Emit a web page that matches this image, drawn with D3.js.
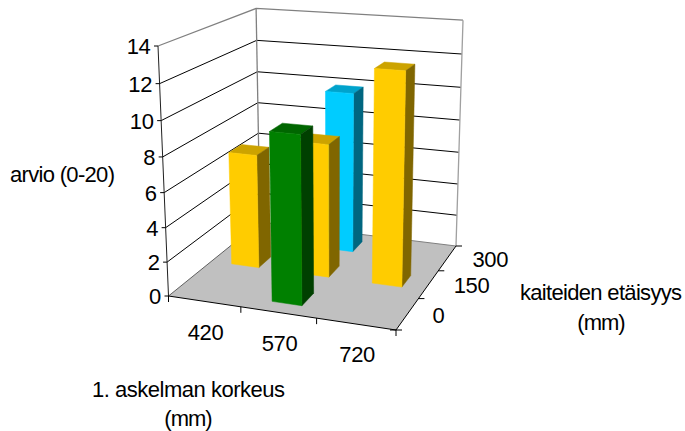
<!DOCTYPE html>
<html>
<head>
<meta charset="utf-8">
<script src="https://cdnjs.cloudflare.com/ajax/libs/d3/7.8.5/d3.min.js"></script>
<style>
  html, body { margin: 0; padding: 0; background: #fff; }
  text { font-family: "Liberation Sans", Arial, sans-serif; fill: #000; }
</style>
</head>
<body>
<svg id="chart" width="685" height="431"></svg>
<script>
// step height and handrail spacing levels
var heights = ["420", "570", "720"];
var spacings = ["0", "150", "300"];
var rows = ["420", "570", "570", "570", "720"];
var cols = ["150", "0", "150", "300", "150"];
var scores = [6.85, 9.6, 7.9, 9.85, 12.4];
var valueTicks = [0, 2, 4, 6, 8, 10, 12, 14];

var colours = {
	"0": { front: "#008000", top: "#006600", side: "#004000" },
	"150": { front: "#ffcc00", top: "#cca300", side: "#806600" },
	"300": { front: "#00ccff", top: "#00a3cc", side: "#006680" }
};

var svg = d3.select("#chart");

// screen position of the box corners, used to set up the perspective
var A = [168.5, 296], B = [396, 330], C = [260, 222], F = [456, 246], D = [158, 46];
var persZ = -0.06;

function solvePersp() {
	// g and h come from the floor quad
	var rx = B[0] + C[0] - A[0] - F[0], ry = B[1] + C[1] - A[1] - F[1];
	var a1 = B[0] - F[0], b1 = C[0] - F[0];
	var a2 = B[1] - F[1], b2 = C[1] - F[1];
	var det = a1 * b2 - a2 * b1;
	return { g: (-rx * b2 + ry * b1) / det, h: (-a1 * ry + a2 * rx) / det };
}
var pers = solvePersp();

function project(u, v, w) {
	var d = 1 + pers.g * u + pers.h * v + persZ * w;
	var out = [];
	for (var k = 0; k < 2; k++) {
		var ax = B[k] * (1 + pers.g) - A[k];
		var ay = C[k] * (1 + pers.h) - A[k];
		var az = D[k] * (1 + persZ) - A[k];
		out.push((A[k] + ax * u + ay * v + az * w) / d);
	}
	return out;
}

var xBand = d3.scaleBand().domain(heights).range([0, 1]);
var yBand = d3.scaleBand().domain(spacings).range([0, 1]);
var zScale = d3.scaleLinear().domain([0, 14]).range([0, 1]);

function poly(pts) { return d3.line()(pts) + "Z"; }

// walls and floor
var walls = svg.append("g");
walls.append("path").attr("d", poly([project(0, 0, 0), project(1, 0, 0), project(1, 1, 0), project(0, 1, 0)]))
	.attr("fill", "#c0c0c0");

// gridlines along left wall and back wall
var grid = svg.append("g");
valueTicks.forEach(function(t) {
	if (t === 0) return;
	var w = zScale(t);
	grid.append("path")
		.attr("d", d3.line()([project(0, 0, w), project(0, 1, w), project(1, 1, w)]))
		.attr("fill", "none")
		.attr("stroke", t === 14 ? "#808080" : "#000")
		.attr("stroke-width", t === 14 ? 1.3 : 1);
});

// box edges
grid.append("path").attr("d", d3.line()([project(0, 1, 1), project(0, 1, 0)])).attr("stroke", "#808080").attr("stroke-width", 1.3);
grid.append("path").attr("d", d3.line()([project(1, 1, 1), project(1, 1, 0)])).attr("stroke", "#a0a0a0").attr("stroke-width", 1.3);
grid.append("path").attr("d", d3.line()([project(0, 0, 0), project(0, 1, 0)])).attr("stroke", "#606060");
grid.append("path").attr("d", d3.line()([project(0, 1, 0), project(1, 1, 0)])).attr("stroke", "#808080");
grid.append("path").attr("d", d3.line()([project(0, 0, 1), project(0, 0, 0)])).attr("stroke", "#202020");
grid.append("path").attr("d", d3.line()([project(0, 0, 0), project(1, 0, 0), project(1, 1, 0)]))
	.attr("fill", "none").attr("stroke", "#000");

// tick marks and labels
var ticks = svg.append("g").attr("stroke", "#000").attr("fill", "none");
var labels = svg.append("g").attr("font-size", 22).attr("letter-spacing", -0.3);

valueTicks.forEach(function(t) {
	var p = project(0, 0, zScale(t));
	ticks.append("line").attr("x1", p[0] - 4).attr("x2", p[0]).attr("y1", p[1]).attr("y2", p[1]);
	labels.append("text").attr("x", p[0] - 7.5).attr("y", p[1] + 8)
		.attr("text-anchor", "end").text(t);
});

d3.range(heights.length + 1).forEach(function(i) {
	var p = project(i / heights.length, 0, 0);
	ticks.append("line").attr("x1", p[0]).attr("y1", p[1]).attr("x2", p[0]).attr("y2", p[1] + 6);
});
heights.forEach(function(h) {
	var c = project(xBand(h) + xBand.bandwidth() / 2, 0, 0);
	labels.append("text").attr("x", c[0] + 1.3).attr("y", c[1] + 38.5)
		.attr("text-anchor", "middle").text(h);
});

d3.range(spacings.length + 1).forEach(function(i) {
	var p = project(1, i / spacings.length, 0);
	ticks.append("line").attr("x1", p[0] - (i === 0 ? 6 : 0)).attr("y1", p[1]).attr("x2", p[0] + 6).attr("y2", p[1]);
});
spacings.forEach(function(s) {
	var c = project(1, yBand(s) + yBand.bandwidth() / 2, 0);
	labels.append("text").attr("x", c[0] + 25).attr("y", c[1] + 9)
		.attr("text-anchor", "start").text(s);
});

// bars, back row first so nearer ones cover them
var barW = 0.40, barD = 0.42;
var order = d3.range(scores.length).sort(function(a, b) {
	return d3.descending(+cols[a], +cols[b]) || d3.ascending(a, b);
});

var bars = svg.append("g");
order.forEach(function(i) {
	var col = colours[cols[i]];
	var u0 = xBand(rows[i]) + xBand.bandwidth() * (1 - barW) / 2;
	var u1 = u0 + xBand.bandwidth() * barW;
	var v0 = yBand(cols[i]) + yBand.bandwidth() * (1 - barD) / 2;
	var v1 = v0 + yBand.bandwidth() * barD;
	var w = zScale(scores[i]);
	var g = bars.append("g").attr("stroke-width", 0.5);
	g.append("path").attr("d", poly([project(u0, v0, w), project(u1, v0, w), project(u1, v1, w), project(u0, v1, w)]))
		.attr("fill", col.top).attr("stroke", col.top);
	g.append("path").attr("d", poly([project(u1, v0, 0), project(u1, v1, 0), project(u1, v1, w), project(u1, v0, w)]))
		.attr("fill", col.side).attr("stroke", col.side);
	g.append("path").attr("d", poly([project(u0, v0, 0), project(u1, v0, 0), project(u1, v0, w), project(u0, v0, w)]))
		.attr("fill", col.front).attr("stroke", col.front);
});

// axis titles, squeezed a little to keep the labels tight
var titles = svg.append("g").attr("font-size", 22);
titles.append("text").attr("x", 10).attr("y", 182).attr("textLength", 105).text("arvio (0-20)");
titles.append("text").attr("x", 92).attr("y", 397).attr("textLength", 193).text("1. askelman korkeus");
titles.append("text").attr("x", 188).attr("y", 425.5).attr("text-anchor", "middle").attr("letter-spacing", -1).text("(mm)");
titles.append("text").attr("x", 520).attr("y", 300).attr("textLength", 162).text("kaiteiden etäisyys");
titles.append("text").attr("x", 601).attr("y", 330).attr("text-anchor", "middle").attr("letter-spacing", -1).text("(mm)");
</script>
</body>
</html>
